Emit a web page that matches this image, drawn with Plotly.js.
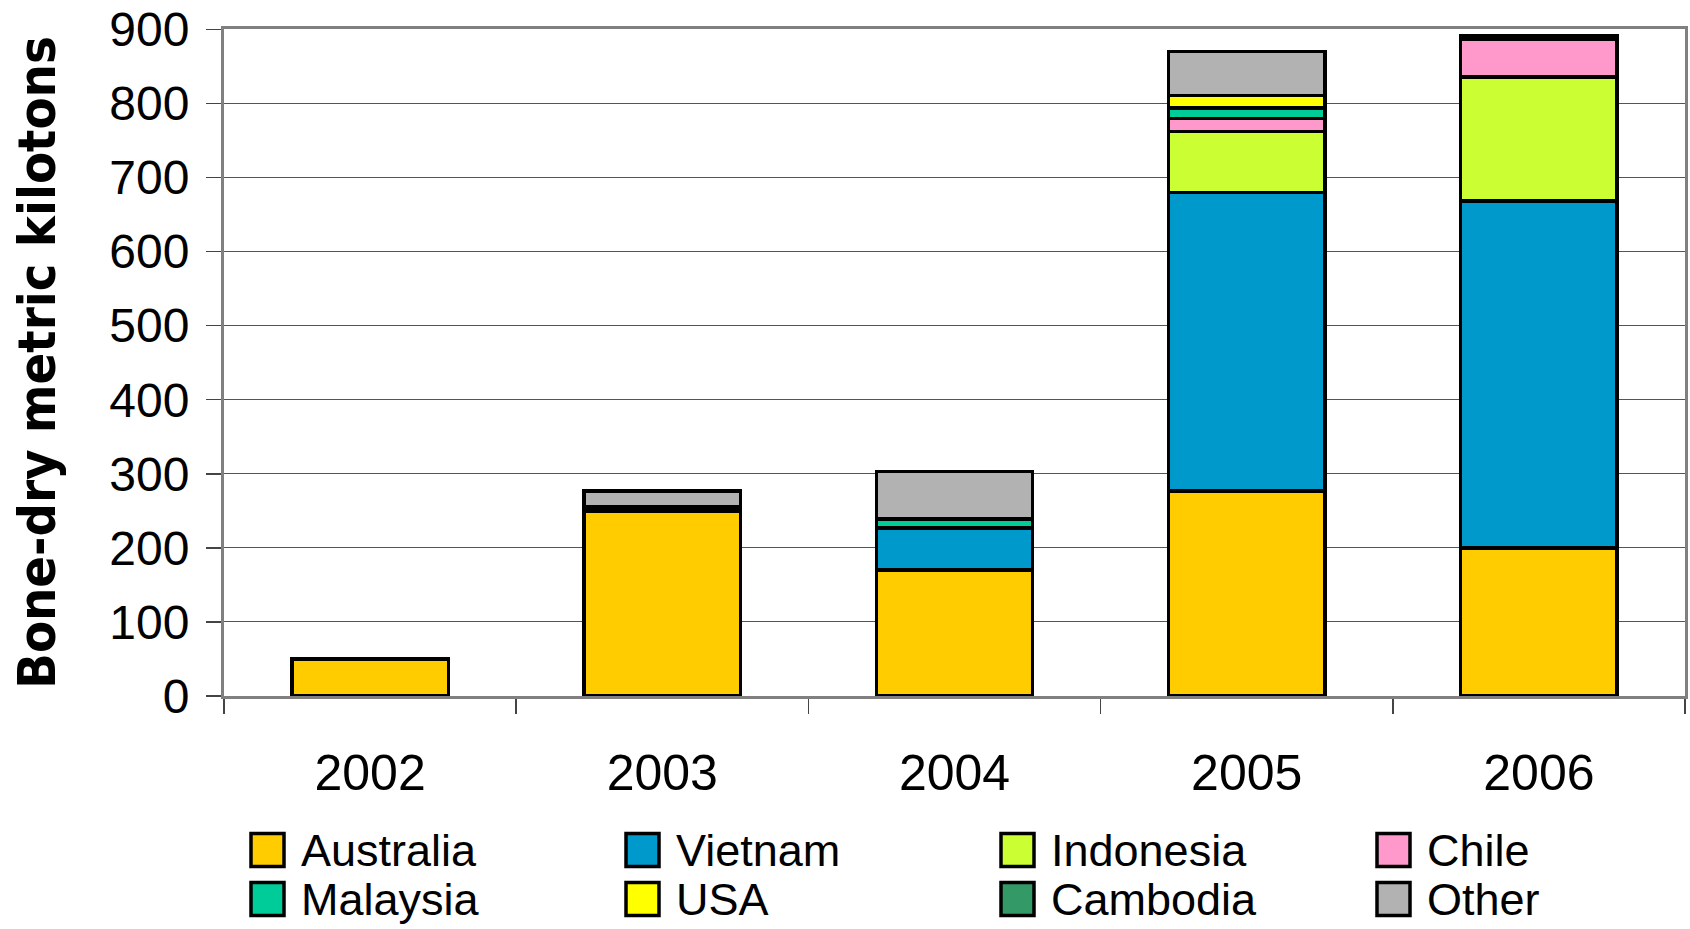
<!DOCTYPE html>
<html>
<head>
<meta charset="utf-8">
<script src="https://cdn.plot.ly/plotly-3.0.1.min.js"></script>
<style>html,body{margin:0;padding:0;background:#fff;}#chart{width:1690px;height:929px;}</style>
</head>
<body>
<div id="chart"></div>
<script>
// ---- data ----
const years = ["2002", "2003", "2004", "2005", "2006"];
const seriesNames = ["Australia", "Vietnam", "Indonesia", "Chile", "Malaysia", "USA", "Cambodia", "Other"];
const seriesColors = ["#FFCC00", "#0099CC", "#CCFF33", "#FF99CC", "#00CC99", "#FFFF00", "#339966", "#B2B2B2"];
const australia = [50, 250, 170, 277, 200];
const vietnam   = [null, null, 57, 403, 468];
const indonesia = [null, null, null, 82, 168];
const chile     = [null, null, null, 18, 50];
const malaysia  = [null, null, 12, 14, null];
const usa       = [null, null, null, 17, null];
const cambodia  = [null, 5, null, null, 5];
const other     = [null, 22, 64, 59, null];
const seriesValues = [australia, vietnam, indonesia, chile, malaysia, usa, cambodia, other];
const yTickVals = [0, 100, 200, 300, 400, 500, 600, 700, 800, 900];
const yTitle = "Bone-dry metric kilotons";

// ---- layout constants ----
const W = 1690, H = 929;
const M = {l: 224, r: 5, t: 29, b: 233};
const plotW = W - M.l - M.r, plotH = H - M.t - M.b;
const px2x = p => (p - M.l) / plotW;
const py2y = p => (H - M.b - p) / plotH;
const tickFont = {family: "Liberation Sans, Arial, sans-serif", size: 48, color: "#000"};

const traces = seriesNames.map((name, i) => ({
  type: "bar",
  name: name,
  x: years,
  y: seriesValues[i],
  marker: {color: seriesColors[i], line: {color: "#000", width: 3.5}},
  showlegend: false,
  hoverinfo: "x+y+name"
}));

// custom legend (4 columns x 2 rows)
const colX = [251, 626, 1001, 1377];
const rowY = [850, 899];
const sw = 33;
const shapes = [], annotations = [];
seriesNames.forEach((name, i) => {
  const c = i % 4, r = Math.floor(i / 4);
  shapes.push({
    type: "rect", xref: "paper", yref: "paper",
    x0: px2x(colX[c]), x1: px2x(colX[c] + sw),
    y0: py2y(rowY[r] + sw / 2), y1: py2y(rowY[r] - sw / 2),
    fillcolor: seriesColors[i], line: {color: "#000", width: 3.5}
  });
  annotations.push({
    xref: "paper", yref: "paper", x: px2x(colX[c] + sw + 15), y: py2y(rowY[r]),
    xanchor: "left", yanchor: "middle", showarrow: false, text: name,
    font: {family: "Liberation Sans, Arial, sans-serif", size: 45, color: "#000"}
  });
});

const layout = {
  width: W, height: H,
  margin: M,
  paper_bgcolor: "#fff", plot_bgcolor: "#fff",
  barmode: "stack",
  bargap: 0.465,
  xaxis: {
    type: "category",
    tickson: "boundaries",
    ticks: "outside", ticklen: 15, tickwidth: 1.5, tickcolor: "#444",
    ticklabelstandoff: 31,
    showline: true, linecolor: "#808080", linewidth: 3, mirror: true,
    showgrid: false, zeroline: false,
    tickfont: {family: "Liberation Sans, Arial, sans-serif", size: 50, color: "#000"},
    fixedrange: true
  },
  yaxis: {
    range: [0, 900.5],
    tickmode: "array", tickvals: yTickVals,
    ticks: "outside", ticklen: 15, tickwidth: 1.5, tickcolor: "#444",
    ticklabelstandoff: 7,
    ticklabeloverflow: "allow",
    showline: true, linecolor: "#808080", linewidth: 3, mirror: true,
    showgrid: true, gridcolor: "#555", gridwidth: 1,
    zeroline: false,
    tickfont: tickFont,
    title: {text: yTitle, standoff: 38,
      font: {family: "DejaVu Sans Condensed, DejaVu Sans, sans-serif", size: 52, weight: "bold", color: "#000"}},
    fixedrange: true
  },
  shapes: shapes,
  annotations: annotations,
  showlegend: false
};

Plotly.newPlot("chart", traces, layout, {displayModeBar: false, staticPlot: true});
</script>
</body>
</html>
